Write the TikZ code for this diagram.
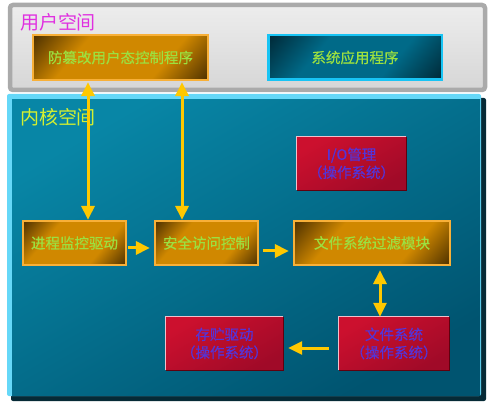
\documentclass[tikz,border=0pt]{standalone}
\usepackage{fontspec}
\setmainfont{Noto Sans CJK SC}
\newfontfamily\boxfont[FakeBold=0.5]{Noto Sans CJK SC}
\usetikzlibrary{arrows.meta,shadings}
\definecolor{ubord}{HTML}{AAAAAA}
\definecolor{ufillA}{HTML}{EDEDED}
\definecolor{ufillB}{HTML}{D6D6D6}
\definecolor{kcyan}{HTML}{66D8F8}
\definecolor{kshadow}{HTML}{062A36}
\definecolor{ktealA}{HTML}{0886A6}
\definecolor{ktealB}{HTML}{005470}
\definecolor{obord}{HTML}{F8B038}
\definecolor{odark}{HTML}{3A2400}
\definecolor{orng}{HTML}{D08800}
\definecolor{gtext}{HTML}{9CE040}
\definecolor{tbord}{HTML}{18C4F4}
\definecolor{tdark}{HTML}{00202C}
\definecolor{tmid}{HTML}{006A88}
\definecolor{redA}{HTML}{CC102E}
\definecolor{redB}{HTML}{A00A28}
\definecolor{redlight}{HTML}{F0C0CC}
\definecolor{reddark}{HTML}{60000E}
\definecolor{rtext}{HTML}{5434D8}
\definecolor{arrowc}{HTML}{FFC800}
\definecolor{utitle}{HTML}{E030E0}
\definecolor{ktitle}{HTML}{D4F030}
\pgfdeclarehorizontalshading{obox}{100bp}{color(0bp)=(odark); color(12bp)=(odark); color(34bp)=(orng); color(66bp)=(orng); color(88bp)=(odark); color(100bp)=(odark)}
\pgfdeclarehorizontalshading{tbox}{100bp}{color(0bp)=(tdark); color(12bp)=(tdark); color(36bp)=(tmid); color(64bp)=(tmid); color(88bp)=(tdark); color(100bp)=(tdark)}
\begin{document}
\begin{tikzpicture}[x=1pt,y=-1pt,
  boxtext/.style={font=\boxfont\fontsize{14.5}{18}\selectfont, align=center, inner sep=0pt},
  titletext/.style={font=\fontsize{19}{21}\selectfont, inner sep=0pt},
  orangebox/.style={boxtext, draw=obord, line width=2.2pt, text=gtext,
    shade, shading=obox, shading angle=-40},
  tealbox/.style={boxtext, draw=tbord, line width=2.5pt, text=gtext,
    shade, shading=tbox, shading angle=-40},
  redbox/.style={boxtext, text=rtext, shade, top color=redA, bottom color=redB, shading angle=30},
  arr/.style={draw=arrowc, line width=3pt, -{Triangle[width=13pt,length=14pt]}},
  dbl/.style={draw=arrowc, line width=3pt, {Triangle[width=13pt,length=14pt]}-{Triangle[width=13pt,length=14pt]}}
]
\useasboundingbox (0,0) rectangle (491,404);
% user space panel
\shade[top color=ufillA, bottom color=ufillB, draw=ubord, line width=4.5pt, rounded corners=3pt]
  (10,5) rectangle (485,90);
\node[titletext, text=utitle] (utitle) at (58,22) {用户空间};
% kernel space panel
\fill[kshadow, rounded corners=2pt] (11,98) rectangle (486,401);
\fill[kcyan, rounded corners=2pt] (7,94) rectangle (481,396);
\shade[top color=ktealA, bottom color=ktealB, shading angle=30] (12,100) rectangle (480,395);
\node[titletext, text=ktitle] (ktitle) at (58,117) {内核空间};
% user boxes
\node[orangebox, minimum width=175pt, minimum height=45pt] (ctl) at (120.5,57.5) {防篡改用户态控制程序};
\node[tealbox, minimum width=173.5pt, minimum height=44.5pt] (app) at (355,57.5) {系统应用程序};
% kernel boxes
\node[orangebox, minimum width=103pt, minimum height=44pt] (proc) at (74.5,243) {进程监控驱动};
\node[orangebox, minimum width=103pt, minimum height=44pt] (sec) at (206.5,243) {安全访问控制};
\node[orangebox, minimum width=156pt, minimum height=44pt] (fsf) at (372,243) {文件系统过滤模块};
\node[redbox, minimum width=109pt, minimum height=53pt] (io) at (351.5,163.5) {I/O管理\\（操作系统）};
\node[redbox, minimum width=117pt, minimum height=53pt] (store) at (224.5,343.5) {存贮驱动\\（操作系统）};
\node[redbox, minimum width=110pt, minimum height=53pt] (fs) at (394,343.5) {文件系统\\（操作系统）};
% red box edges
\foreach \n in {io,store,fs}{
  \draw[reddark, line width=1pt] (\n.north east) -- (\n.south east) -- (\n.south west);
  \draw[redlight, line width=1pt] (\n.south west) -- (\n.north west) -- (\n.north east);
}
% connectors
\draw[dbl] ([xshift=-32.5pt,yshift=-1pt]ctl.south) -- ([xshift=-32.5pt]ctl.south |- proc.north);
\draw[dbl] ([xshift=61.5pt,yshift=-1pt]ctl.south) -- ([xshift=61.5pt]ctl.south |- sec.north);
\draw[arr] ([xshift=1pt,yshift=-5pt]proc.east) -- ([xshift=-4pt,yshift=-5pt]sec.west);
\draw[arr] ([xshift=4pt,yshift=-8pt]sec.east) -- ([xshift=-4pt,yshift=-8pt]fsf.west);
\draw[dbl] ([xshift=8pt,yshift=-4pt]fsf.south) -- ([xshift=8pt]fsf.south |- fs.north);
\draw[arr] ([xshift=-10pt,yshift=-4.5pt]fs.west) -- ([xshift=5pt,yshift=-4.5pt]store.east);
\end{tikzpicture}
\end{document}
